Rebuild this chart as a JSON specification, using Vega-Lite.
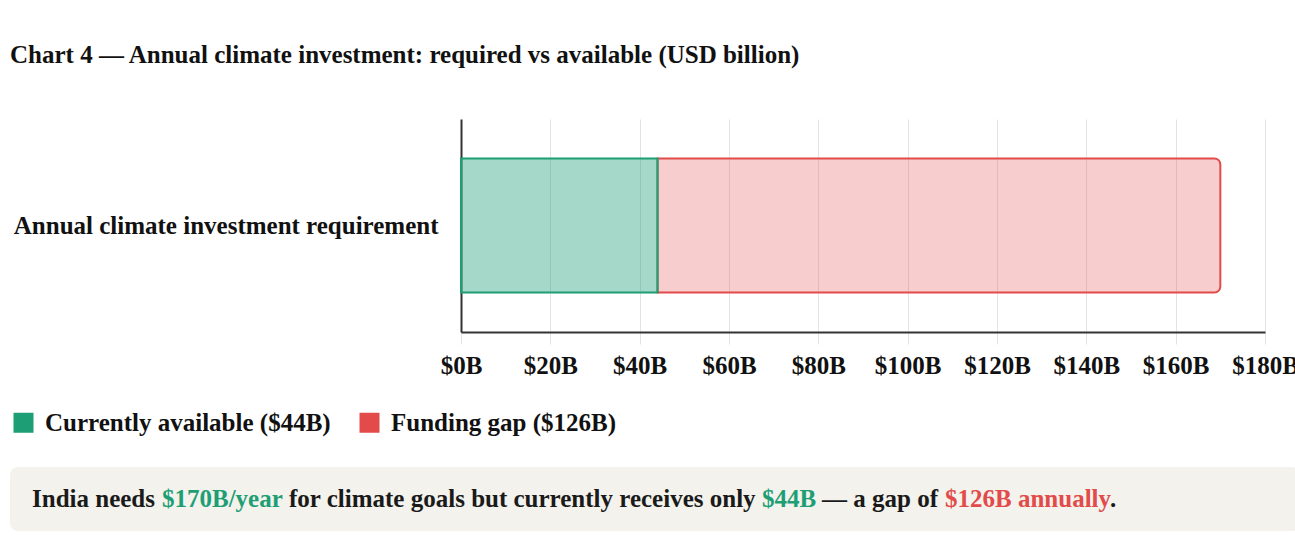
{
  "$schema": "https://vega.github.io/schema/vega-lite/v6.json",
  "background": "white",
  "padding": {"left": 10, "top": 43, "right": 0, "bottom": 0},
  "title": {
    "text": "Chart 4 — Annual climate investment: required vs available (USD billion)",
    "anchor": "start",
    "frame": "bounds",
    "font": "Liberation Serif",
    "fontSize": 25,
    "fontWeight": "bold",
    "color": "#111111",
    "offset": 51
  },
  "config": {"font": "Liberation Serif", "view": {"stroke": null}},
  "spacing": 31,
  "resolve": {"scale": {"color": "independent"}, "legend": {"color": "independent"}},
  "vconcat": [
    {
      "spacing": 0,
      "resolve": {"scale": {"color": "independent"}, "legend": {"color": "independent"}},
      "hconcat": [
        {
          "width": 1,
          "height": 213,
          "data": {"values": []},
          "mark": {"type": "point", "opacity": 0}
        },
        {
          "width": 804,
          "height": 213,
          "data": {
            "values": [
              {"category": "Annual climate investment requirement", "part": "Currently available ($44B)", "seq": 1, "value": 44},
              {"category": "Annual climate investment requirement", "part": "Funding gap ($126B)", "seq": 2, "value": 126}
            ]
          },
          "transform": [
            {"stack": "value", "groupby": ["category"], "sort": [{"field": "seq", "order": "ascending"}], "as": ["x0", "x1"]}
          ],
          "encoding": {
            "y": {
              "field": "category",
              "type": "nominal",
              "axis": {
                "title": null,
                "domainColor": "#333333",
                "domainWidth": 2,
                "ticks": false,
                "tickSize": 0,
                "labelFontSize": 25,
                "labelFontWeight": "bold",
                "labelColor": "#111111",
                "labelPadding": 23,
                "labelLimit": 700,
                "grid": false
              }
            },
            "x": {
              "field": "x0",
              "type": "quantitative",
              "scale": {"domain": [0, 180], "nice": false},
              "axis": {
                "title": null,
                "values": [0, 20, 40, 60, 80, 100, 120, 140, 160, 180],
                "labelExpr": "'$' + datum.value + 'B'",
                "grid": true,
                "gridColor": "#e3e3e3",
                "tickColor": "#e3e3e3",
                "tickSize": 12,
                "domainColor": "#333333",
                "domainWidth": 2,
                "labelFontSize": 25,
                "labelFontWeight": "bold",
                "labelColor": "#111111",
                "labelPadding": 9,
                "labelFlush": false
              }
            },
            "x2": {"field": "x1"},
            "color": {
              "field": "part",
              "type": "nominal",
              "scale": {"domain": ["Currently available ($44B)", "Funding gap ($126B)"], "range": ["#1d9e75", "#e24b4a"]},
              "legend": {
                "orient": "none",
                "legendX": -450,
                "legendY": 291,
                "direction": "horizontal",
                "title": null,
                "padding": 0,
                "offset": 0,
                "symbolType": "square",
                "symbolSize": 400,
                "symbolStrokeWidth": 0,
                "symbolOpacity": 1,
                "labelFont": "Liberation Serif",
                "labelFontSize": 25,
                "labelFontWeight": "bold",
                "labelColor": "#111111",
                "labelLimit": 500,
                "labelOffset": 9,
                "columnPadding": 26,
                "encode": {"symbols": {"update": {"fillOpacity": {"value": 1}, "strokeWidth": {"value": 0}}}}
              }
            }
          },
          "layer": [
            {
              "transform": [{"filter": "datum.seq == 2"}],
              "mark": {"type": "bar", "height": {"band": 0.7}, "fillOpacity": 0.28, "stroke": "#e24b4a", "strokeWidth": 2, "cornerRadiusTopRight": 6, "cornerRadiusBottomRight": 6}
            },
            {
              "transform": [{"filter": "datum.seq == 1"}],
              "mark": {"type": "bar", "height": {"band": 0.7}, "fillOpacity": 0.4, "stroke": "#1d9e75", "strokeWidth": 2}
            }
          ]
        }
      ]
    },
    {
      "width": 1290,
      "height": 64,
      "view": {"fill": "#f3f2ec", "stroke": null, "cornerRadius": 8},
      "data": {
        "values": [
          {"i": 1, "txt": "India needs", "tone": "plain"},
          {"i": 2, "txt": "$170B/year", "tone": "avail"},
          {"i": 3, "txt": "for climate goals but currently receives only", "tone": "plain"},
          {"i": 4, "txt": "$44B", "tone": "avail"},
          {"i": 5, "txt": "— a gap of", "tone": "plain"},
          {"i": 6, "txt": "$126B annually", "tone": "gap"},
          {"i": 7, "txt": ".", "tone": "plain"}
        ]
      },
      "encoding": {
        "y": {"value": 32},
        "text": {"field": "txt"},
        "color": {
          "field": "tone",
          "type": "nominal",
          "scale": {"domain": ["plain", "avail", "gap"], "range": ["#1a1a1a", "#1d9e75", "#e24b4a"]},
          "legend": null
        }
      },
      "layer": [
        {"transform": [{"filter": "datum.i == 1"}], "mark": {"type": "text", "x": 22, "align": "left", "baseline": "middle", "font": "Liberation Serif", "fontSize": 25, "fontWeight": "bold"}},
        {"transform": [{"filter": "datum.i == 2"}], "mark": {"type": "text", "x": 152, "align": "left", "baseline": "middle", "font": "Liberation Serif", "fontSize": 25, "fontWeight": "bold"}},
        {"transform": [{"filter": "datum.i == 3"}], "mark": {"type": "text", "x": 279, "align": "left", "baseline": "middle", "font": "Liberation Serif", "fontSize": 25, "fontWeight": "bold"}},
        {"transform": [{"filter": "datum.i == 4"}], "mark": {"type": "text", "x": 752, "align": "left", "baseline": "middle", "font": "Liberation Serif", "fontSize": 25, "fontWeight": "bold"}},
        {"transform": [{"filter": "datum.i == 5"}], "mark": {"type": "text", "x": 812, "align": "left", "baseline": "middle", "font": "Liberation Serif", "fontSize": 25, "fontWeight": "bold"}},
        {"transform": [{"filter": "datum.i == 6"}], "mark": {"type": "text", "x": 935, "align": "left", "baseline": "middle", "font": "Liberation Serif", "fontSize": 25, "fontWeight": "bold"}},
        {"transform": [{"filter": "datum.i == 7"}], "mark": {"type": "text", "x": 1100, "align": "left", "baseline": "middle", "font": "Liberation Serif", "fontSize": 25, "fontWeight": "bold"}}
      ]
    }
  ]
}
